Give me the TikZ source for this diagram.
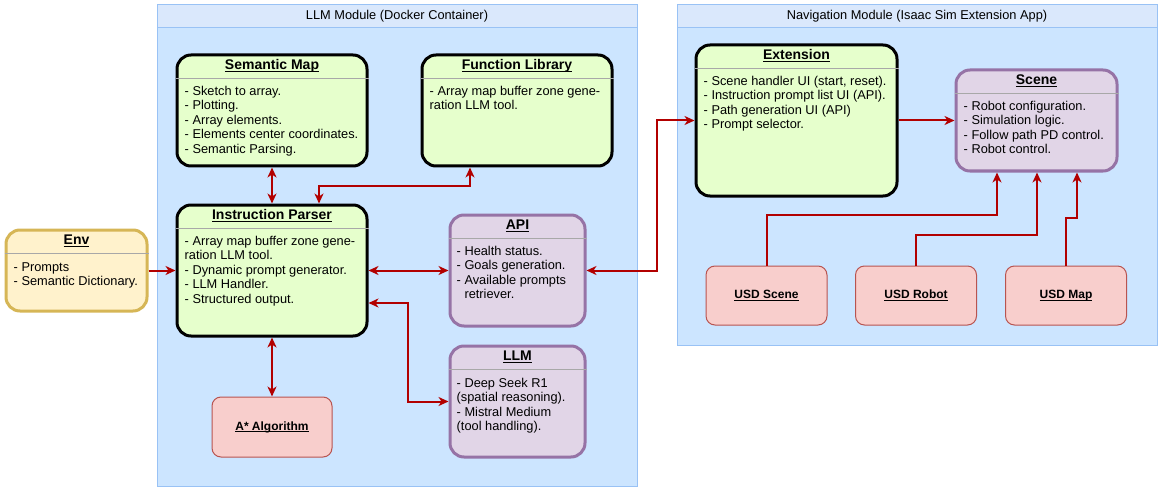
\documentclass[tikz,border=0pt]{standalone}
\usepackage{fontspec}
\setmainfont{Liberation Sans}
\usetikzlibrary{arrows.meta,calc}
\definecolor{arrred}{HTML}{B20000}
\definecolor{greenfill}{HTML}{E6FFCC}
\definecolor{purplefill}{HTML}{E1D5E7}
\definecolor{purpleline}{HTML}{9673A6}
\definecolor{envfill}{HTML}{FFF2CC}
\definecolor{envline}{HTML}{D6B656}
\definecolor{redfill}{HTML}{F8CECC}
\definecolor{redline}{HTML}{B85450}
\definecolor{contfill}{HTML}{CCE5FF}
\definecolor{conthead}{HTML}{DAE8FC}
\definecolor{contline}{HTML}{99C2F5}
\definecolor{divgray}{HTML}{A8A8A8}
\newsavebox{\ulxbox}
\newcommand{\ulx}[1]{\sbox{\ulxbox}{#1}\rlap{\rule[-2.2pt]{\wd\ulxbox}{0.9pt}}\usebox{\ulxbox}}
\tikzset{
  box/.style={draw, rounded corners=14pt, line width=3pt, inner sep=0pt},
  greenbox/.style={box, fill=greenfill, draw=black},
  purplebox/.style={box, fill=purplefill, draw=purpleline},
  envbox/.style={box, fill=envfill, draw=envline},
  redbox/.style={draw=redline, fill=redfill, line width=1pt, rounded corners=9pt,
    minimum width=121pt, minimum height=59pt, font=\fontsize{12}{14.5}\selectfont\bfseries},
  divider/.style={draw=divgray, line width=1.2pt},
  titletext/.style={anchor=base, inner sep=0pt, font=\fontsize{14}{16}\selectfont\bfseries},
  bodytext/.style={anchor=north west, inner sep=0pt, align=left},
  link/.style={draw=arrred, line width=2pt},
  container/.style={draw=contline, line width=1pt, fill=contfill},
  conthdr/.style={draw=contline, line width=1pt, fill=conthead},
  >={Stealth[length=10pt,width=9pt,inset=3pt]}
}
\begin{document}
\begin{tikzpicture}[x=1pt,y=-1pt,font=\fontsize{12.8}{14.5}\selectfont]
\useasboundingbox[fill=white] (0,0) rectangle (1162,492);

% containers
\path[container] (157,5) rectangle (637,486);
\path[conthdr] (157,5) rectangle (637,28);
\node[inner sep=0pt] (llmtitle) at (397,16.5) {LLM Module (Docker Container)};
\path[container] (677,5) rectangle (1157,345);
\path[conthdr] (677,5) rectangle (1157,28);
\node[inner sep=0pt] (navtitle) at (917,16.5) {Navigation Module (Isaac Sim Extension App)};

% boxes
\node[greenbox, minimum width=190pt, minimum height=111pt] (sm) at (272,110.5) {};
\node[greenbox, minimum width=190pt, minimum height=111pt] (fl) at (517,110.5) {};
\node[greenbox, minimum width=190pt, minimum height=131pt] (ip) at (272,270.5) {};
\node[envbox, minimum width=141pt, minimum height=81pt] (env) at (76.5,270.5) {};
\node[purplebox, minimum width=135pt, minimum height=111pt] (api) at (517.5,270.5) {};
\node[purplebox, minimum width=135pt, minimum height=111pt] (llm) at (517.5,401.5) {};
\node[redbox, minimum width=120pt, minimum height=60pt] (astar) at (272,427) {\ulx{A* Algorithm}};
\node[greenbox, minimum width=201pt, minimum height=151pt] (ext) at (796.5,120.5) {};
\node[purplebox, minimum width=161pt, minimum height=101pt] (scene) at (1036.5,120.5) {};
\node[redbox] (usdscene) at (766.5,295.5) {\ulx{USD Scene}};
\node[redbox] (usdrobot) at (916,295.5) {\ulx{USD Robot}};
\node[redbox] (usdmap) at (1066,295.5) {\ulx{USD Map}};

% dividers, titles, bodies
\foreach \b/\t in {sm/Semantic Map, fl/Function Library, ip/Instruction Parser, env/Env, api/API, llm/LLM, ext/Extension, scene/Scene}{
  \draw[divider] ($(\b.north west)+(0,25)$) -- ($(\b.north east)+(0,25)$);
  \node[titletext] at ($(\b.north)+(0,16)$) {\ulx{\t}};
}
\node[bodytext] (smtext) at ($(sm.north west)+(9,32.5)$) {- Sketch to array.\\- Plotting.\\- Array elements.\\- Elements center coordinates.\\- Semantic Parsing.};
\node[bodytext] (fltext) at ($(fl.north west)+(9,32.5)$) {- Array map buffer zone gene-\\ration LLM tool.};
\node[bodytext] (iptext) at ($(ip.north west)+(9,32.5)$) {- Array map buffer zone gene-\\ration LLM tool.\\- Dynamic prompt generator.\\- LLM Handler.\\- Structured output.};
\node[bodytext] (envtext) at ($(env.north west)+(9,33.5)$) {- Prompts\\- Semantic Dictionary.};
\node[bodytext] (apitext) at ($(api.north west)+(8,32.5)$) {- Health status.\\- Goals generation.\\- Available prompts\\\phantom{- }retriever.};
\node[bodytext] (llmtext) at ($(llm.north west)+(8,33.5)$) {- Deep Seek R1\\(spatial reasoning).\\- Mistral Medium\\(tool handling).};
\node[bodytext] (exttext) at ($(ext.north west)+(9,32.5)$) {- Scene handler UI (start, reset).\\- Instruction prompt list UI (API).\\- Path generation UI (API)\\- Prompt selector.};
\node[bodytext] (scenetext) at ($(scene.north west)+(9,32.5)$) {- Robot configuration.\\- Simulation logic.\\- Follow path PD control.\\- Robot control.};

% bend points
\coordinate (b1) at (997,215);
\coordinate (b2) at (1037,235);
\coordinate (b3) at (1077,218);
\coordinate (b4) at (657,270.5);
\coordinate (b5) at (408,303);
\coordinate (b6) at (319,186);
\coordinate (b7) at (470,186);

% connectors
\draw[link,->] (env.east) -- (ip.west);
\draw[link,<->] (ip.east) -- (api.west);
\draw[link,<->] (api.east) -- (b4) |- (ext.west);
\draw[link,<->] (ip.east |- b5) -- (b5) |- (llm.west);
\draw[link,<->] (ip.south) -- (astar.north);
\draw[link,<->] (sm.south) -- (ip.north);
\draw[link,<->] (b6 |- ip.north) -- (b6) -- (b7) -- (b7 |- fl.south);
\draw[link,->] (ext.east) -- (scene.west);
\draw[link,->] (usdscene.north) |- (b1) -- (b1 |- scene.south);
\draw[link,->] (usdrobot.north) |- (b2) -- (b2 |- scene.south);
\draw[link,->] (usdmap.north) |- (b3) -- (b3 |- scene.south);
\end{tikzpicture}
\end{document}
